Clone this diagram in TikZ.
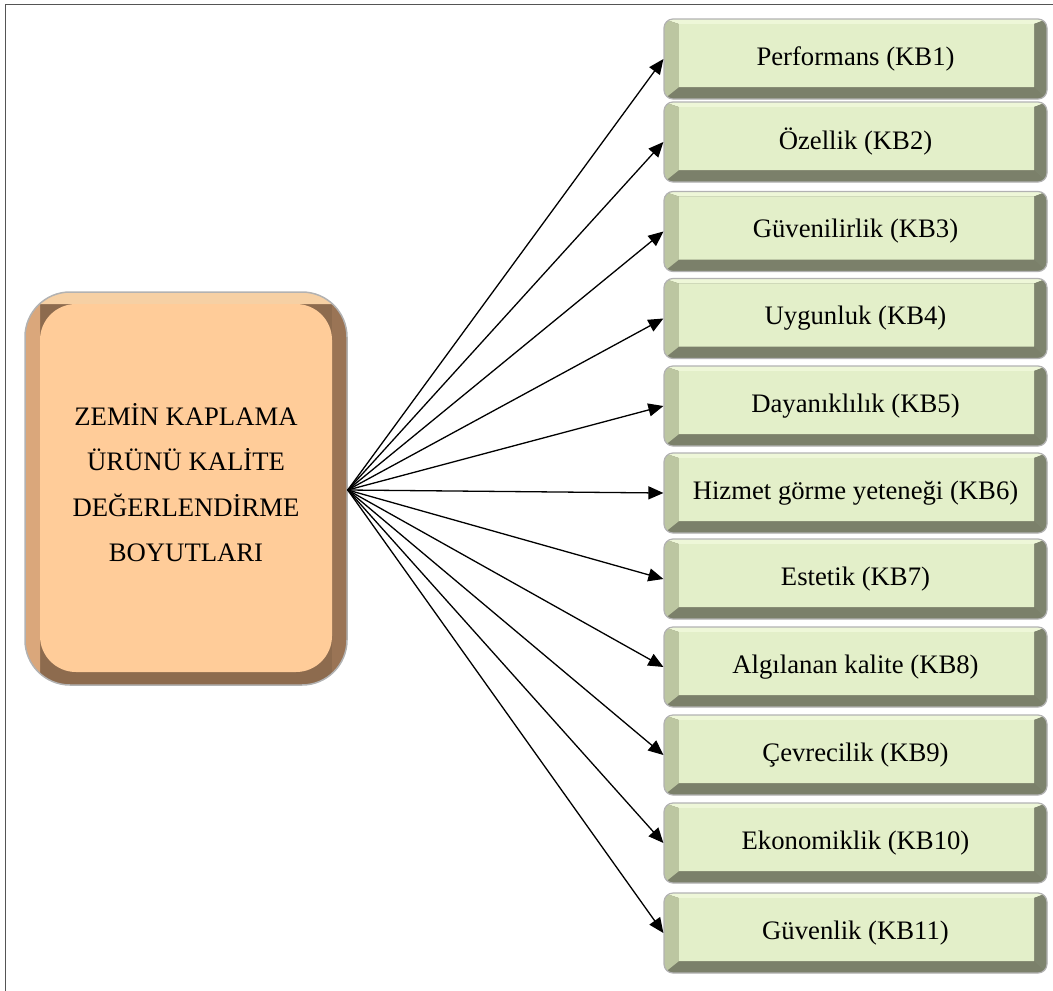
\documentclass[tikz,border=0pt]{standalone}
\usepackage{fontspec}
\setmainfont{Liberation Serif}
\usetikzlibrary{calc,arrows.meta}
\definecolor{kbyuz}{HTML}{E3EFC9}
\definecolor{kbust}{HTML}{EEF7D8}
\definecolor{kbsol}{HTML}{BCC6A1}
\definecolor{kbsag}{HTML}{7E846E}
\definecolor{kbalt}{HTML}{7B806A}
\definecolor{byyuz}{HTML}{FFCC99}
\definecolor{byust}{HTML}{F6D0A4}
\definecolor{bysol}{HTML}{DAA77B}
\definecolor{bysag}{HTML}{9A7455}
\definecolor{byalt}{HTML}{8D6B4E}
\definecolor{cerceve}{HTML}{555555}
% bevelled face: left, right, top, bottom widths, then top, left, right, face colours, face rounding
\newcommand{\bevelfill}[9]{%
	\coordinate (bA) at (path picture bounding box.north west);
	\coordinate (bC) at (path picture bounding box.south east);
	\coordinate (bB) at (bC|-bA);
	\coordinate (bD) at (bA|-bC);
	\coordinate (ba) at ($(bA)+(#1,-#3)$);
	\coordinate (bb) at ($(bB)+(-#2,-#3)$);
	\coordinate (bc) at ($(bC)+(-#2,#4)$);
	\coordinate (bd) at ($(bD)+(#1,#4)$);
	\fill[#5,sharp corners] (bA) -- (bB) -- (bb) -- (ba) -- cycle;
	\fill[#6,sharp corners] (bD) -- (bA) -- (ba) -- (bd) -- cycle;
	\fill[#7,sharp corners] (bB) -- (bC) -- (bc) -- (bb) -- cycle;
	\fill[#8,rounded corners=#9] (ba) rectangle (bc);
}
\tikzset{
	kbkutu/.style={rounded corners=9pt, minimum width=383pt, minimum height=80pt, inner sep=0pt,
		draw=black!30, line width=1.2pt, fill=kbalt,
		path picture={\bevelfill{15pt}{13pt}{5pt}{12pt}{kbust}{kbsol}{kbsag}{kbyuz}{0.1pt}},
		font=\fontsize{26.7}{30}\selectfont},
	boyutkutu/.style={rounded corners=45pt, minimum width=322pt, minimum height=393pt, inner sep=0pt,
		draw=black!30, line width=1.5pt, fill=byalt, align=center,
		path picture={\bevelfill{15pt}{15pt}{12pt}{13pt}{byust}{bysol}{bysag}{byyuz}{36pt}},
		font=\fontsize{26.7}{45.5}\selectfont},
	ok/.style={-{Triangle[length=15pt,width=13pt]}, line width=1.3pt}
}
\begin{document}
\begin{tikzpicture}[x=1pt,y=-1pt]
				\useasboundingbox (0,0) rectangle (1053,991);
				\draw[cerceve, line width=1.5pt] (5.5,991) -- (5.5,4.5) -- (1053,4.5);
				\node[boyutkutu] (boyut) at (186,488.5) {ZEMİN KAPLAMA\\ÜRÜNÜ KALİTE\\DEĞERLENDİRME\\BOYUTLARI\\[-33pt]\mbox{}};
				\node[kbkutu] (kb1) at (855.5,59) {Performans (KB1)};
				\node[kbkutu] (kb2) at (855.5,142) {Özellik (KB2)};
				\node[kbkutu] (kb3) at (855.5,231.5) {Güvenilirlik (KB3)};
				\node[kbkutu] (kb4) at (855.5,318.5) {Uygunluk (KB4)};
				\node[kbkutu] (kb5) at (855.5,406) {Dayanıklılık (KB5)};
				\node[kbkutu] (kb6) at (855.5,493) {Hizmet görme yeteneği (KB6)};
				\node[kbkutu] (kb7) at (855.5,579) {Estetik (KB7)};
				\node[kbkutu] (kb8) at (855.5,667) {Algılanan kalite (KB8)};
				\node[kbkutu] (kb9) at (855.5,755) {Çevrecilik (KB9)};
				\node[kbkutu] (kb10) at (855.5,843) {Ekonomiklik (KB10)};
				\node[kbkutu] (kb11) at (855.5,933) {Güvenlik (KB11)};
				\coordinate (merkez) at ([yshift=-1.5pt]boyut.east);
				\foreach \k in {1,...,11}
					\draw[ok] (merkez) -- (kb\k.west);
			\end{tikzpicture}
\end{document}
